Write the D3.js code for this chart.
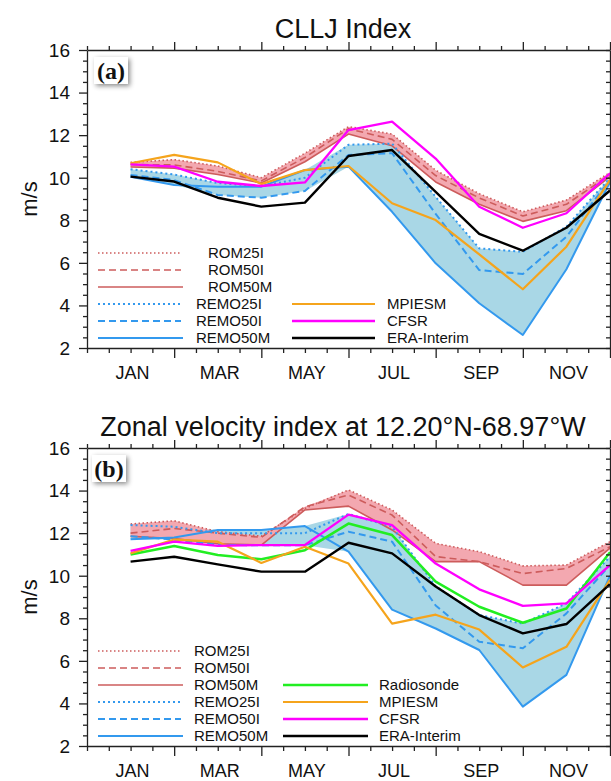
<!DOCTYPE html>
<html lang="en">
<head>
<meta charset="UTF-8">
<title>CLLJ Index</title>
<script src="https://cdn.jsdelivr.net/npm/d3@7"></script>
<style>
  body { margin: 0; background: #fff; }
  text { font-family: "Liberation Sans", Helvetica, Arial, sans-serif; fill: #111; }
  .axis line, .axis path { stroke: #222; stroke-width: 1.3; fill: none; }
</style>
</head>
<body>
<svg id="chart" width="611" height="781"></svg>
<script>
// month positions 1..12, labels on the odd months
const monthNum = [1, 2, 3, 4, 5, 6, 7, 8, 9, 10, 11, 12];
const xTickLabels = ["JAN", "MAR", "MAY", "JUL", "SEP", "NOV"];
const yTickValues = [2, 4, 6, 8, 10, 12, 14, 16];

// panel (a) CLLJ Index
const aROM25I  = [10.72, 10.85, 10.55, 10.0, 11.15, 12.4, 12.05, 10.35, 9.25, 8.4, 8.95, 10.25];
const aROM50I  = [10.62, 10.6, 10.3, 9.85, 10.95, 12.3, 11.8, 10.1, 9.05, 8.2, 8.75, 10.15];
const aROM50M  = [10.5, 10.45, 10.15, 9.75, 10.75, 12.05, 11.5, 9.8, 8.75, 7.95, 8.45, 10.05];
const aREMO25I = [10.4, 10.15, 9.75, 9.6, 10.0, 11.55, 11.6, 9.1, 6.68, 6.52, 7.7, 10.0];
const aREMO50I = [10.13, 9.89, 9.19, 9.06, 9.38, 11.07, 11.15, 8.3, 5.66, 5.48, 7.23, 9.9];
const aREMO50M = [10.05, 9.66, 9.58, 9.58, 10.36, 10.52, 8.4, 5.98, 4.1, 2.61, 5.7, 9.8];
const aMPIESM  = [10.68, 11.07, 10.72, 9.7, 10.36, 10.55, 8.8, 8.01, 6.4, 4.76, 6.76, 9.9];
const aCFSR    = [10.63, 10.52, 9.81, 9.61, 9.78, 12.24, 12.63, 10.9, 8.64, 7.65, 8.33, 10.2];
const aERA     = [10.05, 9.82, 9.06, 8.64, 8.83, 11.02, 11.3, 9.33, 7.36, 6.57, 7.65, 9.4];

// panel (b) zonal velocity at 12.20N-68.97W
const bROM25I  = [12.43, 12.58, 12.07, 11.86, 13.16, 14.03, 13.09, 11.52, 11.13, 10.46, 10.5, 11.6];
const bROM50I  = [12.0, 12.22, 12.0, 11.8, 13.24, 13.79, 12.85, 10.9, 10.66, 10.1, 10.34, 11.36];
const bROM50M  = [11.85, 11.75, 11.5, 11.44, 13.09, 13.27, 12.15, 10.66, 10.66, 9.56, 9.56, 11.3];
const bREMO25I = [12.38, 12.3, 12.0, 12.0, 12.0, 12.9, 12.3, 9.5, 8.15, 7.75, 8.7, 10.9];
const bREMO50I = [11.86, 11.7, 11.45, 11.43, 11.43, 12.07, 11.6, 8.6, 6.9, 6.59, 8.23, 10.5];
const bREMO50M = [11.71, 11.8, 12.15, 12.15, 12.33, 11.13, 8.41, 7.52, 6.51, 3.85, 5.34, 10.0];
const bRadiosonde = [11.0, 11.4, 10.97, 10.77, 11.2, 12.45, 11.91, 9.72, 8.54, 7.79, 8.46, 11.1];
const bMPIESM  = [11.05, 11.7, 11.6, 10.6, 11.36, 10.57, 7.75, 8.17, 7.47, 5.69, 6.66, 9.8];
const bCFSR    = [11.17, 11.6, 11.4, 11.44, 11.44, 12.87, 12.38, 10.57, 9.36, 8.58, 8.7, 10.5];
const bERA     = [10.66, 10.89, 10.53, 10.19, 10.19, 11.55, 11.05, 9.49, 8.15, 7.29, 7.73, 9.6];

const romColor = "#cd5c5c", remoColor = "#3399ee";
const styles = {
  ROM25I:  { color: romColor, dash: "1.5,2.5", w: 1.6 },
  ROM50I:  { color: romColor, dash: "7,4", w: 1.6 },
  ROM50M:  { color: romColor, dash: null, w: 1.6 },
  REMO25I: { color: remoColor, dash: "2,3", w: 2 },
  REMO50I: { color: remoColor, dash: "7,4", w: 2 },
  REMO50M: { color: remoColor, dash: null, w: 2 },
  Radiosonde: { color: "#22ee22", dash: null, w: 2.5 },
  MPIESM:  { color: "#f5a41c", dash: null, w: 2.2 },
  CFSR:    { color: "#ff00ff", dash: null, w: 2.3 },
  "ERA-Interim": { color: "#000", dash: null, w: 2.4 }
};

const svg = d3.select("#chart");
const defs = svg.append("defs");
defs.append("filter").attr("id", "shadow")
  .attr("x", "-30%").attr("y", "-30%").attr("width", "170%").attr("height", "170%")
  .append("feDropShadow").attr("dx", 2).attr("dy", 2).attr("stdDeviation", 2.5)
  .attr("flood-color", "#000").attr("flood-opacity", 0.45);

const x = d3.scaleLinear().domain([0, 12]).range([87, 610]);

function drawPanel(cfg) {
  const y = d3.scaleLinear().domain([2, 16]).range([cfg.bottom, cfg.top]);
  const g = svg.append("g");

  const rows = monthNum.map((m, i) => {
    const r = { m: m };
    for (const k in cfg.series) r[k] = cfg.series[k][i];
    return r;
  });

  function band(keys, fill) {
    const area = d3.area()
      .x(d => x(d.m))
      .y0(d => y(d3.min(keys, k => d[k])))
      .y1(d => y(d3.max(keys, k => d[k])));
    g.append("path").datum(rows).attr("d", area).attr("fill", fill);
  }
  band(["REMO25I", "REMO50I", "REMO50M"], "#a9d7e6");
  band(["ROM25I", "ROM50I", "ROM50M"], "#f3a8b0");

  for (const k of cfg.order) {
    const s = styles[k];
    const line = d3.line().x(d => x(d.m)).y(d => y(d[k]));
    g.append("path").datum(rows).attr("d", line)
      .attr("fill", "none").attr("stroke", s.color)
      .attr("stroke-width", s.w).attr("stroke-dasharray", s.dash)
      .attr("stroke-linejoin", "round");
  }

  // axes: frame with outward ticks
  const xMinor = d3.range(0, 12.01, 0.5);
  const yMinor = d3.range(2, 16.01, 0.5);
  const bottomAx = d3.axisBottom(x).tickValues(xMinor).tickFormat("")
    .tickSize(5).tickSizeOuter(0);
  const topAx = d3.axisTop(x).tickValues(xMinor).tickFormat("")
    .tickSize(4).tickSizeOuter(0);
  const leftAx = d3.axisLeft(y).tickValues(yMinor).tickFormat("")
    .tickSize(4).tickSizeOuter(0);
  const rightAx = d3.axisRight(y).tickValues(yMinor).tickFormat("")
    .tickSize(-4).tickSizeOuter(0);

  const gb = g.append("g").attr("class", "axis")
    .attr("transform", `translate(0,${cfg.bottom})`).call(bottomAx);
  const gt = g.append("g").attr("class", "axis")
    .attr("transform", `translate(0,${cfg.top})`).call(topAx);
  const gl = g.append("g").attr("class", "axis")
    .attr("transform", `translate(87,0)`).call(leftAx);
  g.append("g").attr("class", "axis")
    .attr("transform", `translate(610,0)`).call(rightAx);

  // longer major ticks
  gb.selectAll(".tick line").filter(d => d % 2 === 0 && d > 0).attr("y2", 10);
  gt.selectAll(".tick line").filter(d => d % 2 === 0 && d > 0).attr("y2", -8);
  gl.selectAll(".tick line").filter(d => d % 2 === 0).attr("x2", -8);

  g.selectAll(".axis .domain").attr("stroke-width", 1.5);

  g.append("g").selectAll("text").data(yTickValues).join("text")
    .attr("x", 70).attr("y", d => y(d)).attr("dy", "0.36em")
    .attr("text-anchor", "end").attr("font-size", 19).text(d => d);

  g.append("g").selectAll("text").data(xTickLabels).join("text")
    .attr("x", (d, i) => x(1 + 2 * i) + 2).attr("y", cfg.bottom + 31)
    .attr("text-anchor", "middle").attr("font-size", 18).text(d => d);

  g.append("text")
    .attr("transform", `translate(37,${(cfg.top + cfg.bottom) / 2}) rotate(-90)`)
    .attr("text-anchor", "middle").attr("font-size", 22).text("m/s");

  g.append("text").attr("x", 343).attr("y", cfg.top - 12)
    .attr("text-anchor", "middle").attr("font-size", 27).text(cfg.title);

  // panel tag
  const tag = g.append("g");
  tag.append("rect").attr("x", cfg.tagX).attr("y", cfg.top + 7)
    .attr("width", 34).attr("height", 27).attr("fill", "#fff")
    .attr("filter", "url(#shadow)");
  tag.append("text").attr("x", cfg.tagX + 17).attr("y", cfg.top + 29)
    .attr("text-anchor", "middle").attr("font-size", 24).attr("font-weight", "bold")
    .style("font-family", "'Liberation Serif', 'Times New Roman', serif")
    .text(cfg.tag);

  // legend
  const lg = g.append("g");
  cfg.legend.forEach((e, i) => {
    const s = styles[e.key];
    const ly = cfg.legendY + 17 * e.row;
    lg.append("line").attr("x1", e.x1).attr("x2", e.x2).attr("y1", ly).attr("y2", ly)
      .attr("stroke", s.color).attr("stroke-width", s.w).attr("stroke-dasharray", s.dash);
    lg.append("text").attr("x", e.tx).attr("y", ly).attr("dy", "0.36em")
      .attr("font-size", 15).text(e.key);
  });
}

drawPanel({
  top: 50, bottom: 348, title: "CLLJ Index", tag: "(a)", tagX: 94, legendY: 253,
  series: { ROM25I: aROM25I, ROM50I: aROM50I, ROM50M: aROM50M,
            REMO25I: aREMO25I, REMO50I: aREMO50I, REMO50M: aREMO50M,
            MPIESM: aMPIESM, CFSR: aCFSR, "ERA-Interim": aERA },
  order: ["ROM25I", "ROM50I", "ROM50M", "REMO25I", "REMO50I", "REMO50M", "MPIESM", "CFSR", "ERA-Interim"],
  legend: [
    { key: "ROM25I", row: 0, x1: 98, x2: 181, tx: 208 },
    { key: "ROM50I", row: 1, x1: 98, x2: 181, tx: 208 },
    { key: "ROM50M", row: 2, x1: 98, x2: 183, tx: 208 },
    { key: "REMO25I", row: 3, x1: 98, x2: 181, tx: 196 },
    { key: "REMO50I", row: 4, x1: 98, x2: 181, tx: 196 },
    { key: "REMO50M", row: 5, x1: 98, x2: 183, tx: 196 },
    { key: "MPIESM", row: 3, x1: 292, x2: 375, tx: 387 },
    { key: "CFSR", row: 4, x1: 292, x2: 375, tx: 387 },
    { key: "ERA-Interim", row: 5, x1: 292, x2: 375, tx: 387 }
  ]
});

drawPanel({
  top: 448, bottom: 746, title: "Zonal velocity index at 12.20°N-68.97°W", tag: "(b)", tagX: 92, legendY: 651,
  series: { ROM25I: bROM25I, ROM50I: bROM50I, ROM50M: bROM50M,
            REMO25I: bREMO25I, REMO50I: bREMO50I, REMO50M: bREMO50M,
            Radiosonde: bRadiosonde, MPIESM: bMPIESM, CFSR: bCFSR, "ERA-Interim": bERA },
  order: ["ROM25I", "ROM50I", "ROM50M", "REMO25I", "REMO50I", "REMO50M", "Radiosonde", "MPIESM", "CFSR", "ERA-Interim"],
  legend: [
    { key: "ROM25I", row: 0, x1: 98, x2: 181, tx: 194 },
    { key: "ROM50I", row: 1, x1: 98, x2: 181, tx: 194 },
    { key: "ROM50M", row: 2, x1: 98, x2: 183, tx: 194 },
    { key: "REMO25I", row: 3, x1: 98, x2: 181, tx: 194 },
    { key: "REMO50I", row: 4, x1: 98, x2: 181, tx: 194 },
    { key: "REMO50M", row: 5, x1: 98, x2: 183, tx: 194 },
    { key: "Radiosonde", row: 2, x1: 283, x2: 368, tx: 379 },
    { key: "MPIESM", row: 3, x1: 283, x2: 368, tx: 379 },
    { key: "CFSR", row: 4, x1: 283, x2: 368, tx: 379 },
    { key: "ERA-Interim", row: 5, x1: 283, x2: 368, tx: 379 }
  ]
});
</script>
</body>
</html>
